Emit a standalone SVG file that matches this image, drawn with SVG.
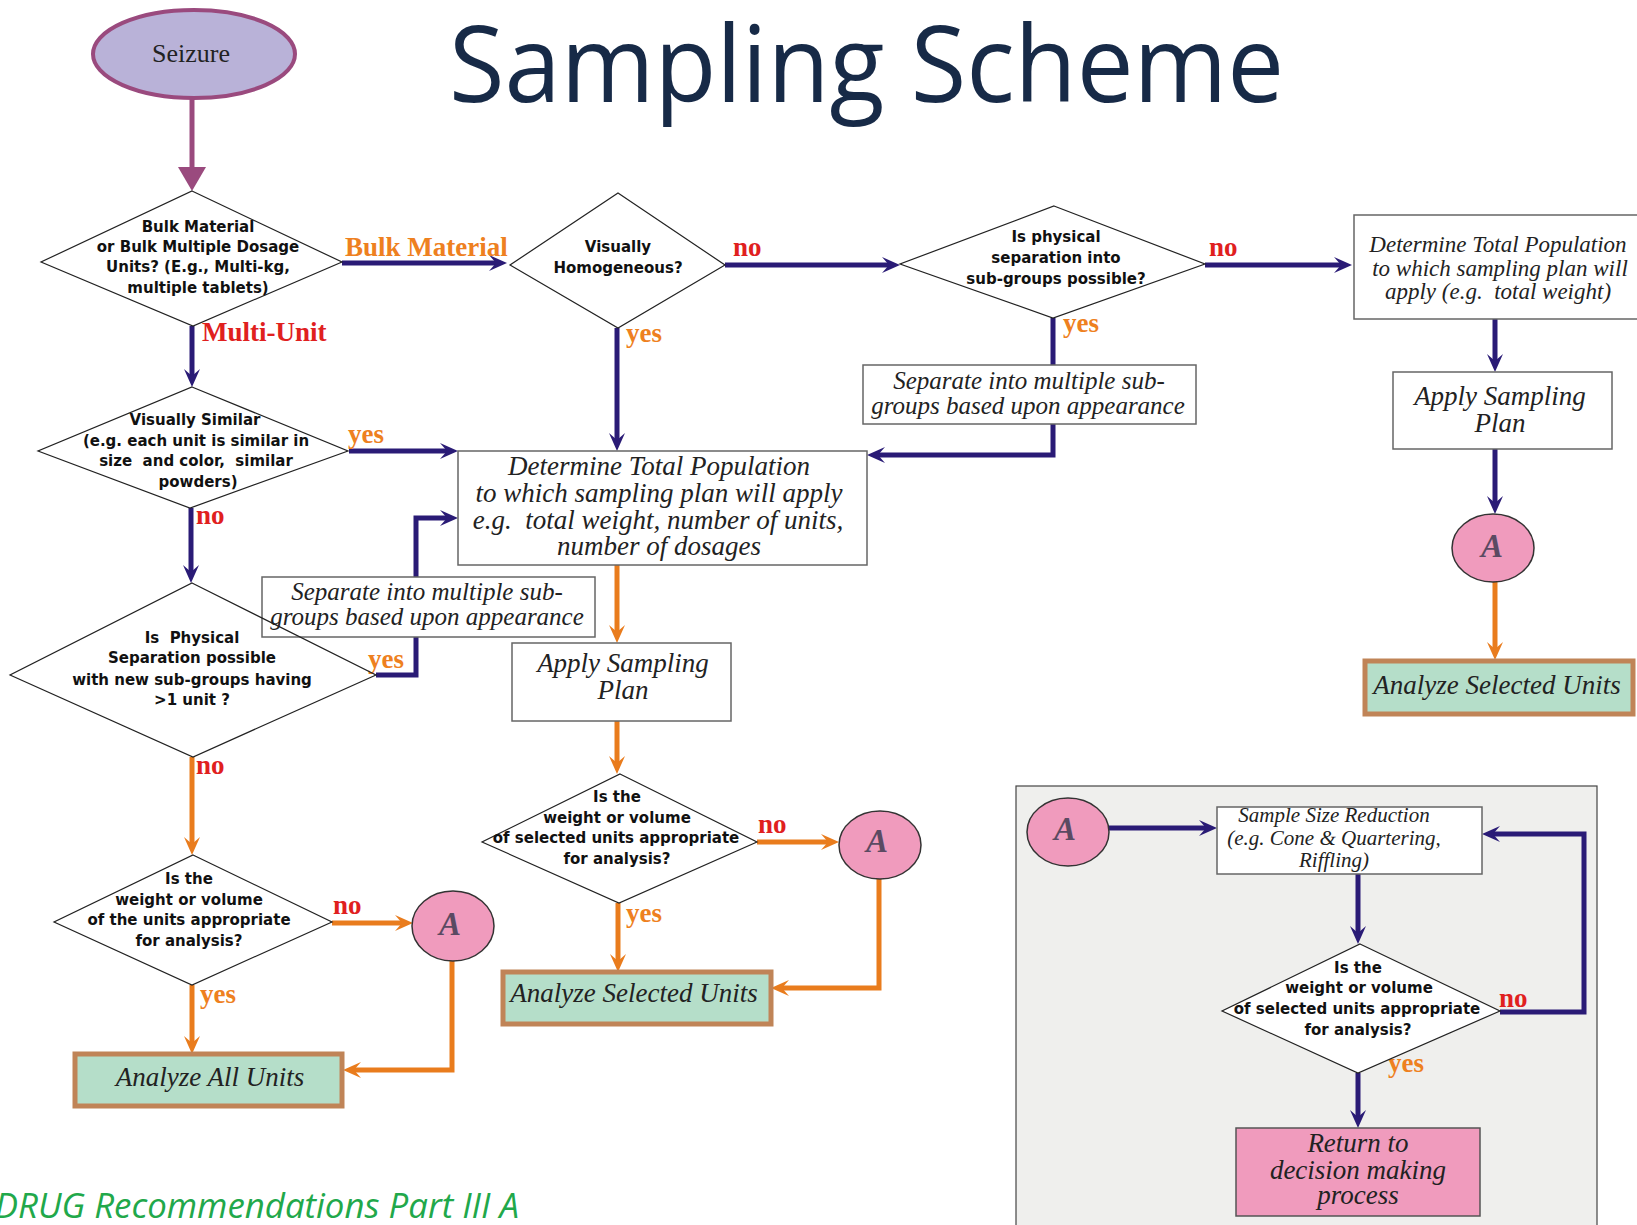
<svg xmlns="http://www.w3.org/2000/svg" width="1637" height="1225" viewBox="0 0 1637 1225">
<style>
.dia{fill:#fff;stroke:#222;stroke-width:1.2}
.box{fill:#fff;stroke:#666;stroke-width:1.5}
.grn{fill:#b5dec9;stroke:#c08457;stroke-width:5}
.circ{fill:#f09bbd;stroke:#333;stroke-width:1.5}
.q{font-family:"DejaVu Sans",sans-serif;font-weight:bold;font-size:15px;fill:#111;text-anchor:middle;white-space:pre}
.it{font-family:"Liberation Serif",serif;font-style:italic;fill:#222;text-anchor:middle;white-space:pre}
.lbl{font-family:"Liberation Serif",serif;font-weight:bold;font-size:27px}
.no{fill:#e0201e}
.yes{fill:#ee8020}
.cn{fill:none;stroke:#2a1b76;stroke-width:5}
.co{fill:none;stroke:#e97c1d;stroke-width:5}
.A{font-family:"Liberation Serif",serif;font-style:italic;font-weight:bold;font-size:33px;fill:#5b4a62;text-anchor:middle}
</style>
<defs>
<marker id="an" markerUnits="userSpaceOnUse" markerWidth="18" markerHeight="16" refX="7" refY="8" orient="auto"><path d="M0,0 L18,8 L0,16 L7,8 Z" fill="#2a1b76"/></marker>
<marker id="ao" markerUnits="userSpaceOnUse" markerWidth="18" markerHeight="16" refX="7" refY="8" orient="auto"><path d="M0,0 L18,8 L0,16 L7,8 Z" fill="#e97c1d"/></marker>
<marker id="ap" markerUnits="userSpaceOnUse" markerWidth="24" markerHeight="28" refX="0" refY="14" orient="auto"><path d="M0,0 L24,14 L0,28 Z" fill="#9a4a7e"/></marker>
</defs>
<rect width="1637" height="1225" fill="#fff"/>
<text x="449" y="102" font-family="Open Sans, sans-serif" font-size="106" fill="#172a47" textLength="835" lengthAdjust="spacingAndGlyphs">Sampling Scheme</text>
<text x="519" y="1218" font-family="Open Sans, sans-serif" font-style="italic" font-size="34.8" fill="#21a84a" text-anchor="end">SWGDRUG Recommendations Part III A</text>

<rect id="panel" x="1016" y="786" width="581" height="460" fill="#efefed" stroke="#444" stroke-width="1.2"/>

<g id="connectors">
<path d="M192,99 V167" fill="none" stroke="#9a4a7e" stroke-width="5" marker-end="url(#ap)"/>
<path class="cn" d="M342,263 H496" marker-end="url(#an)"/>
<path class="cn" d="M192,326 V376" marker-end="url(#an)"/>
<path class="cn" d="M725,265 H889" marker-end="url(#an)"/>
<path class="cn" d="M1205,265 H1341" marker-end="url(#an)"/>
<path class="cn" d="M1495,319 V361" marker-end="url(#an)"/>
<path class="cn" d="M1495,449 V503" marker-end="url(#an)"/>
<path class="co" d="M1495,582 V649" marker-end="url(#ao)"/>
<path class="cn" d="M617,328 V440" marker-end="url(#an)"/>
<path class="cn" d="M1053,318 V455 H878" marker-end="url(#an)"/>
<path class="cn" d="M349,451 H447" marker-end="url(#an)"/>
<path class="cn" d="M191,508 V572" marker-end="url(#an)"/>
<path class="cn" d="M376,675 H416 V518 H447" marker-end="url(#an)"/>
<path class="co" d="M192,757 V844" marker-end="url(#ao)"/>
<path class="co" d="M332,923 H402" marker-end="url(#ao)"/>
<path class="co" d="M452,961 V1070 H354" marker-end="url(#ao)"/>
<path class="co" d="M192,985 V1043" marker-end="url(#ao)"/>
<path class="co" d="M617,565 V632" marker-end="url(#ao)"/>
<path class="co" d="M617,721 V763" marker-end="url(#ao)"/>
<path class="co" d="M757,842 H828" marker-end="url(#ao)"/>
<path class="co" d="M879,879 V988 H782" marker-end="url(#ao)"/>
<path class="co" d="M618,903 V961" marker-end="url(#ao)"/>
<path class="cn" d="M1108,828 H1206" marker-end="url(#an)"/>
<path class="cn" d="M1358,874 V933" marker-end="url(#an)"/>
<path class="cn" d="M1500,1012 H1584 V834 H1493" marker-end="url(#an)"/>
<path class="cn" d="M1358,1073 V1117" marker-end="url(#an)"/>
</g>

<g id="labels">
<text class="lbl yes" x="345" y="256">Bulk Material</text>
<text class="lbl no" x="202" y="341">Multi-Unit</text>
<text class="lbl no" x="733" y="256">no</text>
<text class="lbl no" x="1209" y="256">no</text>
<text class="lbl yes" x="626" y="342">yes</text>
<text class="lbl yes" x="1063" y="332">yes</text>
<text class="lbl yes" x="348" y="443">yes</text>
<text class="lbl no" x="196" y="524">no</text>
<text class="lbl yes" x="368" y="668">yes</text>
<text class="lbl no" x="196" y="774">no</text>
<text class="lbl no" x="333" y="914">no</text>
<text class="lbl yes" x="200" y="1003">yes</text>
<text class="lbl no" x="758" y="833">no</text>
<text class="lbl yes" x="626" y="922">yes</text>
<text class="lbl no" x="1499" y="1007">no</text>
<text class="lbl yes" x="1388" y="1072">yes</text>
</g>

<g id="seizure">
<ellipse cx="194" cy="54" rx="101" ry="44" fill="#b9b2d8" stroke="#9a4a7e" stroke-width="4"/>
<text x="191" y="62" font-family="Liberation Serif, serif" font-size="26" fill="#222" text-anchor="middle">Seizure</text>
</g>

<g id="d1">
<polygon class="dia" points="192,191 342,262 193,326 41,262"/>
<text class="q" x="198" y="232">Bulk Material</text>
<text class="q" x="198" y="252">or Bulk Multiple Dosage</text>
<text class="q" x="198" y="272">Units? (E.g., Multi-kg,</text>
<text class="q" x="198" y="293">multiple tablets)</text>
</g>

<g id="d2">
<polygon class="dia" points="618,193 725,265 618,328 510,265"/>
<text class="q" x="618" y="252">Visually</text>
<text class="q" x="618" y="273">Homogeneous?</text>
</g>

<g id="d3">
<polygon class="dia" points="1054,206 1205,264 1053,318 900,264"/>
<text class="q" x="1056" y="242">Is physical</text>
<text class="q" x="1056" y="263">separation into</text>
<text class="q" x="1056" y="284">sub-groups possible?</text>
</g>

<g id="boxTR">
<rect class="box" x="1354" y="215" width="290" height="104"/>
<text class="it" font-size="23" x="1498" y="252">Determine Total Population</text>
<text class="it" font-size="23" x="1500" y="276">to which sampling plan will</text>
<text class="it" font-size="23" x="1498" y="299">apply (e.g.  total weight)</text>
</g>

<g id="applyR">
<rect class="box" x="1393" y="372" width="219" height="77"/>
<text class="it" font-size="27" x="1500" y="405">Apply Sampling</text>
<text class="it" font-size="27" x="1500" y="432">Plan</text>
</g>

<g id="aR">
<ellipse class="circ" cx="1493" cy="548" rx="41" ry="34"/>
<text class="A" x="1492" y="557">A</text>
</g>

<g id="analyzeR">
<rect class="grn" x="1365" y="661" width="268" height="53"/>
<text class="it" font-size="27" x="1497" y="694">Analyze Selected Units</text>
</g>

<g id="sepR">
<rect class="box" x="863" y="365" width="333" height="59"/>
<text class="it" font-size="25" x="1029" y="389">Separate into multiple sub-</text>
<text class="it" font-size="25" x="1028" y="414">groups based upon appearance</text>
</g>

<g id="midBox">
<rect class="box" x="458" y="451" width="409" height="114"/>
<text class="it" font-size="27" x="659" y="475">Determine Total Population</text>
<text class="it" font-size="27" x="659" y="502">to which sampling plan will apply</text>
<text class="it" font-size="27" x="658" y="529">e.g.  total weight, number of units,</text>
<text class="it" font-size="27" x="659" y="555">number of dosages</text>
</g>

<g id="d4">
<polygon class="dia" points="192,387 348,451 190,508 38,451"/>
<text class="q" x="195" y="425">Visually Similar</text>
<text class="q" x="196" y="446">(e.g. each unit is similar in</text>
<text class="q" x="196" y="466">size  and color,  similar</text>
<text class="q" x="198" y="487">powders)</text>
</g>

<g id="sepL">
<rect class="box" x="262" y="577" width="333" height="60"/>
<text class="it" font-size="25" x="427" y="600">Separate into multiple sub-</text>
<text class="it" font-size="25" x="427" y="625">groups based upon appearance</text>
</g>

<g id="d5">
<polygon class="dia" style="fill:none" points="192,583 376,675 193,757 10,675"/>
<text class="q" x="192" y="643">Is  Physical</text>
<text class="q" x="192" y="663">Separation possible</text>
<text class="q" x="192" y="685">with new sub-groups having</text>
<text class="q" x="192" y="705">&gt;1 unit ?</text>
</g>

<g id="d6">
<polygon class="dia" points="193,855 332,922 192,985 54,922"/>
<text class="q" x="189" y="884">Is the</text>
<text class="q" x="189" y="905">weight or volume</text>
<text class="q" x="189" y="925">of the units appropriate</text>
<text class="q" x="189" y="946">for analysis?</text>
</g>

<g id="aL">
<ellipse class="circ" cx="453" cy="926" rx="41" ry="35"/>
<text class="A" x="450" y="935">A</text>
</g>

<g id="analyzeAll">
<rect class="grn" x="75" y="1054" width="267" height="52"/>
<text class="it" font-size="27" x="210" y="1086">Analyze All Units</text>
</g>

<g id="applyM">
<rect class="box" x="512" y="643" width="219" height="78"/>
<text class="it" font-size="27" x="623" y="672">Apply Sampling</text>
<text class="it" font-size="27" x="623" y="699">Plan</text>
</g>

<g id="d7">
<polygon class="dia" points="620,774 757,842 619,903 482,842"/>
<text class="q" x="617" y="802">Is the</text>
<text class="q" x="617" y="823">weight or volume</text>
<text class="q" x="616" y="843">of selected units appropriate</text>
<text class="q" x="617" y="864">for analysis?</text>
</g>

<g id="aM">
<ellipse class="circ" cx="880" cy="845" rx="41" ry="34"/>
<text class="A" x="877" y="852">A</text>
</g>

<g id="analyzeM">
<rect class="grn" x="503" y="972" width="268" height="52"/>
<text class="it" font-size="27" x="634" y="1002">Analyze Selected Units</text>
</g>

<g id="aP">
<ellipse class="circ" cx="1068" cy="832" rx="41" ry="34"/>
<text class="A" x="1065" y="840">A</text>
</g>

<g id="ssr">
<rect class="box" x="1217" y="807" width="265" height="67"/>
<text class="it" font-size="21" x="1334" y="822">Sample Size Reduction</text>
<text class="it" font-size="21" x="1334" y="845">(e.g. Cone &amp; Quartering,</text>
<text class="it" font-size="21" x="1334" y="867">Riffling)</text>
</g>

<g id="d8">
<polygon class="dia" points="1360,944 1500,1011 1358,1073 1222,1011"/>
<text class="q" x="1358" y="973">Is the</text>
<text class="q" x="1359" y="993">weight or volume</text>
<text class="q" x="1357" y="1014">of selected units appropriate</text>
<text class="q" x="1358" y="1035">for analysis?</text>
</g>

<g id="ret">
<rect x="1236" y="1128" width="244" height="88" fill="#f09bbd" stroke="#555" stroke-width="1.5"/>
<text class="it" font-size="27" x="1358" y="1152">Return to</text>
<text class="it" font-size="27" x="1358" y="1179">decision making</text>
<text class="it" font-size="27" x="1358" y="1204">process</text>
</g>
</svg>
